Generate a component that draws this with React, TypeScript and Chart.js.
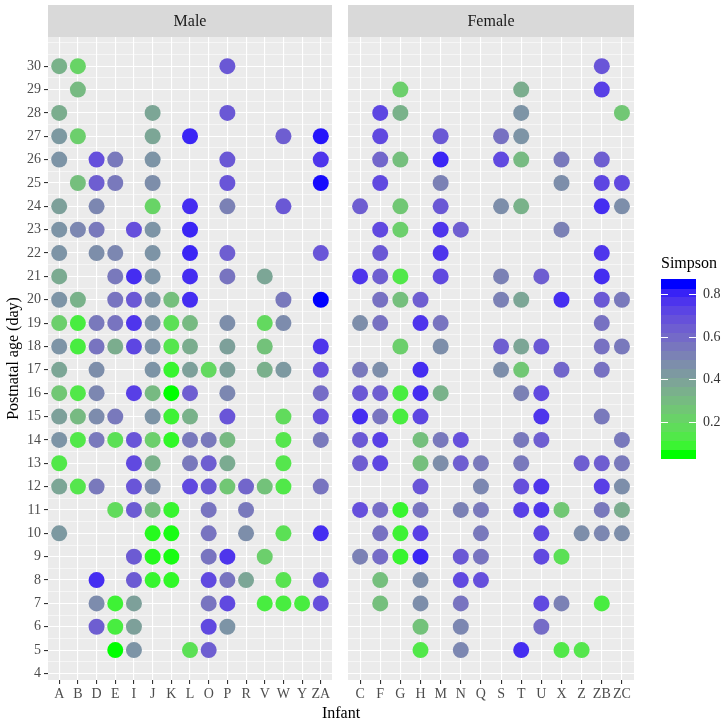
import React, { useEffect, useRef } from "react";
import { Chart, registerables } from "chart.js";
Chart.register(...registerables);

const maleInfants = ["A", "B", "D", "E", "I", "J", "K", "L", "O", "P", "R", "V", "W", "Y", "ZA"];
const femaleInfants = ["C", "F", "G", "H", "M", "N", "Q", "S", "T", "U", "X", "Z", "ZB", "ZC"];
const dayTicks = [4, 5, 6, 7, 8, 9, 10, 11, 12, 13, 14, 15, 16, 17, 18, 19, 20, 21, 22, 23, 24, 25, 26, 27, 28, 29, 30];
const legendBreaks = [0.2, 0.4, 0.6, 0.8];
const simpsonMin = 0.031;
const simpsonMax = 0.87;

// [postnatal day, Simpson index] per infant
const maleObs: Record<string, [number, number][]> = {
  A: [[30, .33], [28, .35], [27, .43], [26, .45], [24, .4], [23, .45], [22, .45], [21, .36], [20, .45], [19, .22], [18, .45], [17, .38], [16, .25], [15, .4], [14, .45], [13, .12], [12, .38], [10, .43]],
  B: [[30, .2], [29, .3], [27, .22], [25, .28], [23, .5], [20, .33], [19, .1], [18, .1], [16, .12], [15, .3], [14, .12], [12, .13]],
  D: [[26, .7], [25, .65], [24, .5], [23, .55], [22, .47], [19, .55], [18, .57], [17, .47], [16, .5], [15, .48], [14, .55], [12, .55], [8, .8], [7, .48], [6, .65]],
  E: [[26, .55], [25, .55], [22, .5], [21, .55], [20, .57], [19, .57], [18, .35], [15, .55], [14, .15], [11, .17], [7, .08], [6, .1], [5, .03]],
  I: [[23, .7], [21, .8], [20, .67], [19, .78], [18, .73], [16, .75], [14, .68], [13, .72], [12, .68], [11, .66], [9, .66], [8, .66], [7, .4], [6, .4], [5, .45]],
  J: [[28, .38], [27, .38], [26, .45], [25, .47], [24, .2], [23, .45], [22, .45], [21, .45], [20, .45], [19, .45], [18, .45], [17, .45], [16, .3], [15, .45], [14, .22], [13, .33], [12, .47], [11, .28], [10, .05], [9, .05], [8, .07]],
  K: [[20, .28], [19, .15], [18, .13], [17, .07], [16, .03], [15, .08], [14, .06], [11, .07], [10, .04], [9, .04], [8, .06]],
  L: [[27, .82], [24, .8], [23, .82], [22, .82], [21, .8], [20, .8], [19, .3], [18, .35], [17, .4], [16, .65], [15, .33], [14, .55], [13, .55], [12, .72], [5, .15]],
  O: [[17, .18], [14, .55], [13, .65], [12, .67], [11, .57], [10, .57], [9, .57], [8, .72], [7, .57], [6, .72], [5, .65]],
  P: [[30, .67], [28, .67], [26, .67], [25, .68], [24, .52], [22, .65], [21, .57], [19, .47], [18, .4], [17, .4], [16, .5], [15, .68], [14, .3], [13, .36], [12, .25], [9, .78], [8, .57], [7, .72], [6, .45]],
  R: [[12, .62], [11, .55], [10, .47], [8, .38]],
  V: [[21, .38], [19, .18], [18, .27], [17, .34], [12, .27], [9, .22], [7, .1]],
  W: [[27, .65], [24, .67], [20, .55], [19, .48], [17, .43], [15, .17], [14, .13], [13, .13], [12, .12], [10, .15], [8, .14], [7, .1]],
  Y: [[7, .1]],
  ZA: [[27, .85], [26, .78], [25, .86], [22, .68], [20, .87], [18, .78], [17, .7], [16, .6], [15, .7], [14, .55], [12, .57], [10, .8], [8, .7], [7, .7]],
};

const femaleObs: Record<string, [number, number][]> = {
  C: [[24, .65], [21, .78], [19, .47], [17, .55], [16, .67], [15, .8], [14, .67], [13, .65], [11, .7], [9, .52]],
  F: [[28, .73], [27, .72], [26, .62], [25, .72], [23, .72], [22, .67], [21, .65], [20, .58], [19, .58], [17, .47], [16, .65], [15, .57], [14, .75], [13, .73], [11, .6], [10, .58], [9, .6], [8, .28], [7, .28]],
  G: [[29, .22], [28, .33], [26, .28], [24, .25], [23, .22], [21, .12], [20, .28], [18, .22], [16, .1], [15, .1], [11, .07], [10, .08], [9, .07]],
  H: [[20, .65], [19, .78], [17, .8], [16, .8], [15, .73], [14, .28], [13, .28], [12, .68], [11, .57], [10, .75], [9, .82], [8, .47], [7, .47], [6, .27], [5, .12]],
  M: [[27, .67], [26, .82], [25, .52], [24, .67], [23, .78], [22, .78], [21, .72], [19, .57], [18, .47], [16, .33], [14, .55], [13, .47]],
  N: [[23, .65], [14, .7], [13, .65], [11, .52], [9, .67], [8, .72], [7, .57], [6, .5], [5, .5]],
  Q: [[13, .55], [12, .5], [11, .55], [10, .55], [9, .57], [8, .7]],
  S: [[27, .58], [26, .72], [24, .47], [21, .52], [20, .52], [18, .65], [17, .47]],
  T: [[29, .35], [28, .45], [27, .45], [26, .3], [24, .33], [20, .38], [18, .38], [17, .25], [16, .52], [14, .55], [13, .55], [12, .7], [11, .75], [5, .8]],
  U: [[21, .65], [18, .67], [16, .72], [15, .78], [14, .65], [12, .78], [11, .78], [10, .73], [9, .72], [7, .72], [6, .6]],
  X: [[26, .55], [25, .47], [23, .52], [20, .8], [17, .62], [11, .25], [9, .15], [7, .52], [5, .12]],
  Z: [[13, .65], [10, .47], [5, .13]],
  ZB: [[30, .68], [29, .75], [26, .65], [25, .73], [24, .8], [22, .78], [21, .8], [20, .67], [19, .58], [18, .58], [17, .58], [15, .55], [13, .65], [12, .75], [11, .55], [10, .5], [7, .1]],
  ZC: [[28, .25], [25, .72], [24, .47], [20, .55], [18, .55], [14, .55], [13, .55], [12, .47], [11, .35], [10, .47]],
};

// ---- colour: ggplot2-style gradient green -> blue, interpolated in CIE Lab ----
const WHITE = [0.95047, 1, 1.08883];
function toLin(c: number) { c /= 255; return c <= 0.04045 ? c / 12.92 : Math.pow((c + 0.055) / 1.055, 2.4); }
function fromLin(c: number) {
  c = c <= 0.0031308 ? 12.92 * c : 1.055 * Math.pow(c, 1 / 2.4) - 0.055;
  return Math.round(Math.max(0, Math.min(1, c)) * 255);
}
function rgbToLab(r: number, g: number, b: number) {
  const R = toLin(r), G = toLin(g), B = toLin(b);
  const X = (0.4124 * R + 0.3576 * G + 0.1805 * B) / WHITE[0];
  const Y = (0.2126 * R + 0.7152 * G + 0.0722 * B) / WHITE[1];
  const Z = (0.0193 * R + 0.1192 * G + 0.9505 * B) / WHITE[2];
  const f = (t: number) => (t > 0.008856 ? Math.cbrt(t) : 7.787 * t + 16 / 116);
  const fx = f(X), fy = f(Y), fz = f(Z);
  return [116 * fy - 16, 500 * (fx - fy), 200 * (fy - fz)];
}
function labToRgb(L: number, a: number, bb: number) {
  const fy = (L + 16) / 116, fx = fy + a / 500, fz = fy - bb / 200;
  const fi = (t: number) => (t * t * t > 0.008856 ? t * t * t : (t - 16 / 116) / 7.787);
  const X = fi(fx) * WHITE[0], Y = fi(fy) * WHITE[1], Z = fi(fz) * WHITE[2];
  const R = 3.2406 * X - 1.5372 * Y - 0.4986 * Z;
  const G = -0.9689 * X + 1.8758 * Y + 0.0415 * Z;
  const B = 0.0557 * X - 0.204 * Y + 1.057 * Z;
  return `rgb(${fromLin(R)},${fromLin(G)},${fromLin(B)})`;
}
const LOW = rgbToLab(0, 255, 0);
const HIGH = rgbToLab(0, 0, 255);
function colorFor(v: number) {
  const t = Math.max(0, Math.min(1, (v - simpsonMin) / (simpsonMax - simpsonMin)));
  return labToRgb(LOW[0] + t * (HIGH[0] - LOW[0]), LOW[1] + t * (HIGH[1] - LOW[1]), LOW[2] + t * (HIGH[2] - LOW[2]));
}

// ---- layout ----
const FONT = "'Liberation Serif', 'DejaVu Serif', serif";
const STRIP_TOP = 5;
const PANEL_TOP = 37;
const PANEL_BOTTOM = 680;
const H = 723;
const Y_MIN = 3.72;
const Y_MAX = 31.25;

const isMajor = (v: number) => Number.isInteger(v) && v >= dayTicks[0] && v <= dayTicks[dayTicks.length - 1];

function pointsFor(obs: Record<string, [number, number][]>, cats: string[]) {
  const pts: { x: number; y: number; v: number }[] = [];
  cats.forEach((c, i) => (obs[c] || []).forEach(([d, v]) => pts.push({ x: i, y: d, v })));
  return pts;
}

function makeConfig(cats: string[], obs: Record<string, [number, number][]>, label: string, first: boolean, width: number, padL: number, padR: number): any {
  const stripPlugin = {
    id: "strip" + label,
    beforeDraw(chart: any) {
      const { ctx, chartArea: a } = chart;
      ctx.save();
      ctx.fillStyle = "#EBEBEB";
      ctx.fillRect(a.left, a.top, a.right - a.left, a.bottom - a.top);
      ctx.fillStyle = "#D9D9D9";
      ctx.fillRect(a.left, STRIP_TOP, a.right - a.left, PANEL_TOP - STRIP_TOP);
      ctx.fillStyle = "#1A1A1A";
      ctx.font = `16px ${FONT}`;
      ctx.textAlign = "center";
      ctx.textBaseline = "middle";
      ctx.fillText(label, (a.left + a.right) / 2, (STRIP_TOP + PANEL_TOP) / 2 + 1);
      ctx.restore();
    },
  };
  const legendPlugin = {
    id: "colorbar",
    afterDraw(chart: any) {
      const ctx = chart.ctx;
      const off = 726 - width;
      const bx = 661 - off, bw = 35, top = 279, bottom = 458;
      ctx.save();
      ctx.fillStyle = "#000";
      ctx.font = `16px ${FONT}`;
      ctx.textAlign = "left";
      ctx.textBaseline = "alphabetic";
      ctx.fillText("Simpson", bx, 268);
      const nbin = 20;
      const bh = (bottom - top) / nbin;
      for (let i = 0; i < nbin; i++) {
        const v = simpsonMin + (i * (simpsonMax - simpsonMin)) / (nbin - 1);
        ctx.fillStyle = colorFor(v);
        const y0 = bottom - (i + 1) * bh;
        ctx.fillRect(bx, Math.floor(y0), bw, Math.ceil(bh) + 1);
      }
      const yOf = (v: number) => bottom - ((v - simpsonMin) / (simpsonMax - simpsonMin)) * (bottom - top);
      ctx.strokeStyle = "#FFFFFF";
      ctx.lineWidth = 1;
      ctx.font = `14px ${FONT}`;
      ctx.textBaseline = "middle";
      legendBreaks.forEach((b) => {
        const y = Math.round(yOf(b)) + 0.5;
        ctx.beginPath();
        ctx.moveTo(bx, y); ctx.lineTo(bx + 7, y);
        ctx.moveTo(bx + bw - 7, y); ctx.lineTo(bx + bw, y);
        ctx.stroke();
        ctx.fillStyle = "#333333";
        ctx.fillText(b.toFixed(1), bx + bw + 7, y);
      });
      ctx.restore();
    },
  };
  return {
    type: "scatter",
    data: {
      datasets: [
        {
          data: pointsFor(obs, cats),
          backgroundColor: (c: any) => (c.raw ? colorFor(c.raw.v) : "#000"),
          borderWidth: 0,
          pointRadius: 8,
          pointHoverRadius: 8,
        },
      ],
    },
    options: {
      animation: false,
      responsive: false,
      devicePixelRatio: 1,
      events: [],
      layout: { padding: { left: padL, right: padR, top: PANEL_TOP, bottom: 0 } },
      plugins: { legend: { display: false }, tooltip: { enabled: false } },
      scales: {
        x: {
          type: "linear",
          min: -0.6,
          max: cats.length - 1 + 0.6,
          afterBuildTicks: (s: any) => { s.ticks = cats.map((_, i) => ({ value: i })); },
          afterFit: (s: any) => { s.height = H - PANEL_BOTTOM; },
          grid: { color: "#FFFFFF", lineWidth: 1.1, tickColor: "#333333", tickLength: 4, tickWidth: 1.1 },
          border: { display: false },
          ticks: {
            autoSkip: false, maxRotation: 0, minRotation: 0, padding: 2, color: "#4D4D4D",
            font: { size: 14, family: FONT },
            callback: (v: any) => cats[v] ?? "",
          },
        },
        y: {
          type: "linear",
          min: Y_MIN,
          max: Y_MAX,
          afterBuildTicks: (s: any) => {
            const t: any[] = [];
            for (let v = 4; v <= 31; v += 0.5) t.push({ value: v });
            s.ticks = t;
          },
          afterFit: (s: any) => { s.width = first ? 48 : 0; },
          grid: {
            color: "#FFFFFF",
            lineWidth: (c: any) => (c.tick && isMajor(c.tick.value) ? 1.1 : 0.55),
            tickColor: (c: any) => (c.tick && isMajor(c.tick.value) ? "#333333" : "rgba(0,0,0,0)"),
            tickLength: 4,
            tickWidth: 1.1,
            drawTicks: first,
          },
          border: { display: false },
          ticks: {
            display: first, autoSkip: false, padding: 3, color: "#4D4D4D",
            font: { size: 14, family: FONT },
            callback: (v: any) => (isMajor(v) ? String(v) : ""),
          },
          title: {
            display: first, text: "Postnatal age (day)", color: "#000000",
            font: { size: 16, family: FONT }, padding: { top: 4, bottom: 0 },
          },
        },
      },
    },
    plugins: first ? [stripPlugin] : [stripPlugin, legendPlugin],
  };
}

const LEFT_W = 340;
const RIGHT_W = 386;

export default function App() {
  const c1 = useRef<HTMLCanvasElement>(null);
  const c2 = useRef<HTMLCanvasElement>(null);
  useEffect(() => {
    Chart.defaults.font.family = FONT;
    const ch1 = new Chart(c1.current!, makeConfig(maleInfants, maleObs, "Male", true, LEFT_W, 0, 4));
    const ch2 = new Chart(c2.current!, makeConfig(femaleInfants, femaleObs, "Female", false, RIGHT_W, 6, 92));
    return () => { ch1.destroy(); ch2.destroy(); };
  }, []);
  return (
    <div style={{ position: "absolute", left: 0, top: 0, width: 726, height: 723, background: "#fff", overflow: "hidden" }}>
      <canvas ref={c1} width={LEFT_W} height={H} style={{ position: "absolute", left: 0, top: 0, width: LEFT_W, height: H }} />
      <canvas ref={c2} width={RIGHT_W} height={H} style={{ position: "absolute", left: LEFT_W, top: 0, width: RIGHT_W, height: H }} />
      <div style={{ position: "absolute", left: 48, width: 586, top: 703, height: 20, lineHeight: "20px", textAlign: "center", fontFamily: FONT, fontSize: 16, color: "#000" }}>
        Infant
      </div>
    </div>
  );
}
